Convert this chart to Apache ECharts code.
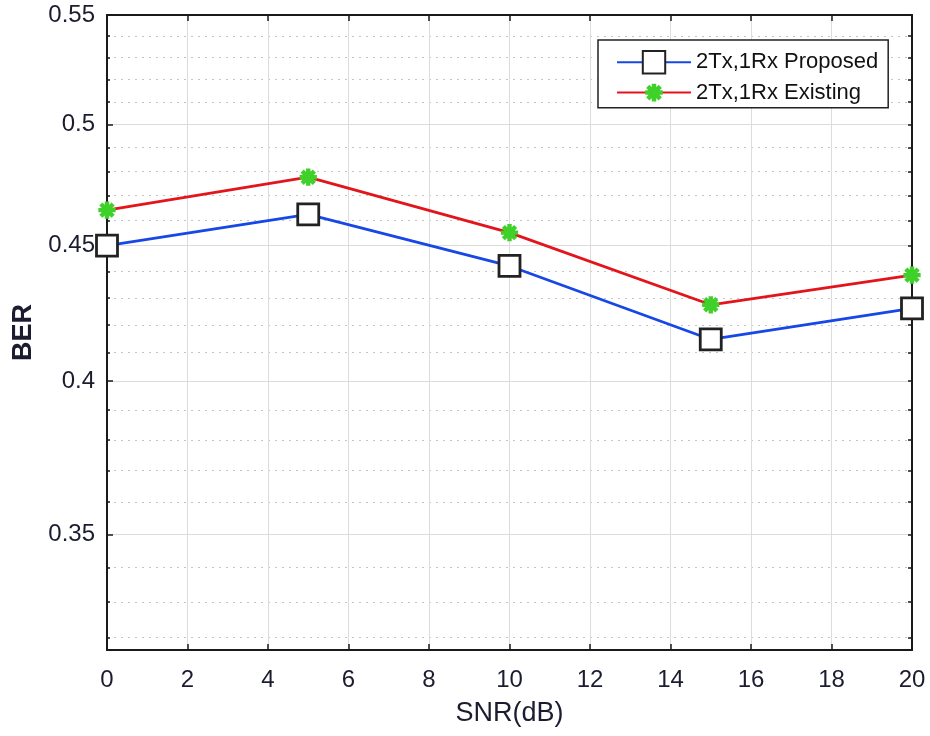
<!DOCTYPE html>
<html>
<head>
<meta charset="utf-8">
<script src="https://cdn.jsdelivr.net/npm/echarts@6/dist/echarts.min.js"></script>
<style>
  html, body { margin: 0; padding: 0; background: #fff; }
  #chart { width: 930px; height: 736px; }
</style>
</head>
<body>
<div id="chart"></div>
<script>
// data
const snr = [0, 5, 10, 15, 20]
const proposed = [0.450, 0.4624, 0.4421, 0.4147, 0.4261]
const existing = [0.4641, 0.4776, 0.4551, 0.4274, 0.4386]

const majorTicks = [0.35, 0.4, 0.45, 0.5, 0.55]
const minorTicks = [0.32, 0.33, 0.34, 0.36, 0.37, 0.38, 0.39, 0.41, 0.42, 0.43, 0.44,
  0.46, 0.47, 0.48, 0.49, 0.51, 0.52, 0.53, 0.54]

const font = "'Liberation Sans', Arial, Helvetica, sans-serif"
const ink = '#1c1c30'
const yMin = 0.3165
const yMax = 0.55

// asterisk marker, thick arms, all bars wound the same way so overlaps stay filled
const star = 'path://M-7,-7 M7,7 ' +
  'M-1.4,-5.5 L1.4,-5.5 L1.4,5.5 L-1.4,5.5 Z M-5.5,-1.4 L5.5,-1.4 L5.5,1.4 L-5.5,1.4 Z ' +
  'M-4.9,-2.9 L-2.9,-4.9 L4.9,2.9 L2.9,4.9 Z M-2.9,4.9 L-4.9,2.9 L2.9,-4.9 L4.9,-2.9 Z'

const chart = echarts.init(document.getElementById('chart'))

chart.setOption({
  backgroundColor: '#fff',
  animation: false,
  grid: { left: 107, right: 18, top: 15, bottom: 86 },
  legend: {
    orient: 'vertical',
    left: 598,
    top: 40,
    padding: [10, 10, 4, 18],
    itemWidth: 74,
    itemHeight: 28,
    itemGap: 7,
    backgroundColor: '#fff',
    borderColor: '#222',
    borderWidth: 1.5,
    borderRadius: 0,
    textStyle: { fontFamily: font, fontSize: 22, color: '#111' },
    data: ['2Tx,1Rx Proposed', '2Tx,1Rx Existing']
  },
  xAxis: [{
    type: 'value',
    min: 0,
    max: 20,
    interval: 2,
    name: 'SNR(dB)',
    nameLocation: 'middle',
    nameGap: 50,
    nameTextStyle: { fontFamily: font, fontSize: 27, color: ink },
    axisLine: { lineStyle: { color: '#1a1a1a', width: 2 } },
    axisTick: { inside: true, length: 6, lineStyle: { color: '#1a1a1a', width: 1.5 } },
    axisLabel: { fontFamily: font, fontSize: 24, color: ink, margin: 18 },
    splitLine: { show: true, lineStyle: { color: '#dcdcdc', width: 1 } }
  }, {
    type: 'value',
    position: 'top',
    min: 0,
    max: 20,
    interval: 2,
    axisLine: { show: true, lineStyle: { color: '#1a1a1a', width: 2 } },
    axisTick: { show: true, inside: true, length: 6, lineStyle: { color: '#1a1a1a', width: 1.5 } },
    axisLabel: { show: false },
    splitLine: { show: false }
  }],
  yAxis: [{
    type: 'log',
    logBase: 10,
    min: yMin,
    max: yMax,
    name: 'BER',
    nameLocation: 'middle',
    nameGap: 70,
    nameRotate: 90,
    nameTextStyle: { fontFamily: font, fontSize: 27, fontWeight: 'bold', color: ink },
    axisLine: { show: true, lineStyle: { color: '#1a1a1a', width: 2 } },
    axisTick: { show: true, inside: true, length: 6, customValues: majorTicks,
      lineStyle: { color: '#1a1a1a', width: 1.5 } },
    axisLabel: { fontFamily: font, fontSize: 24, color: ink, margin: 12,
      customValues: majorTicks, formatter: v => String(+v.toFixed(2)) },
    splitLine: { show: true, lineStyle: { color: '#dcdcdc', width: 1 } }
  }, {
    type: 'log',
    logBase: 10,
    min: yMin,
    max: yMax,
    position: 'left',
    axisLine: { show: false },
    axisTick: { show: true, inside: true, length: 3, customValues: minorTicks,
      lineStyle: { color: '#1a1a1a', width: 1.5 } },
    axisLabel: { show: false },
    splitLine: { show: true, lineStyle: { color: '#c4c4c4', width: 1, type: [2, 5] } }
  }, {
    type: 'log',
    logBase: 10,
    min: yMin,
    max: yMax,
    position: 'right',
    axisLine: { show: true, lineStyle: { color: '#1a1a1a', width: 2 } },
    axisTick: { show: true, inside: true, length: 4, customValues: majorTicks.concat(minorTicks),
      lineStyle: { color: '#1a1a1a', width: 1.5 } },
    axisLabel: { show: false },
    splitLine: { show: false }
  }],
  series: [{
    name: '2Tx,1Rx Proposed',
    type: 'line',
    data: snr.map((x, i) => [x, proposed[i]]),
    symbol: 'rect',
    symbolSize: 21,
    lineStyle: { color: '#1747e6', width: 2.8 },
    itemStyle: { color: '#fff', borderColor: '#222', borderWidth: 2.8 },
    z: 3
  }, {
    name: '2Tx,1Rx Existing',
    type: 'line',
    data: snr.map((x, i) => [x, existing[i]]),
    symbol: star,
    symbolSize: 22,
    lineStyle: { color: '#e3141b', width: 2.8 },
    itemStyle: { color: '#3fd12a' },
    z: 4
  }]
})
</script>
</body>
</html>
